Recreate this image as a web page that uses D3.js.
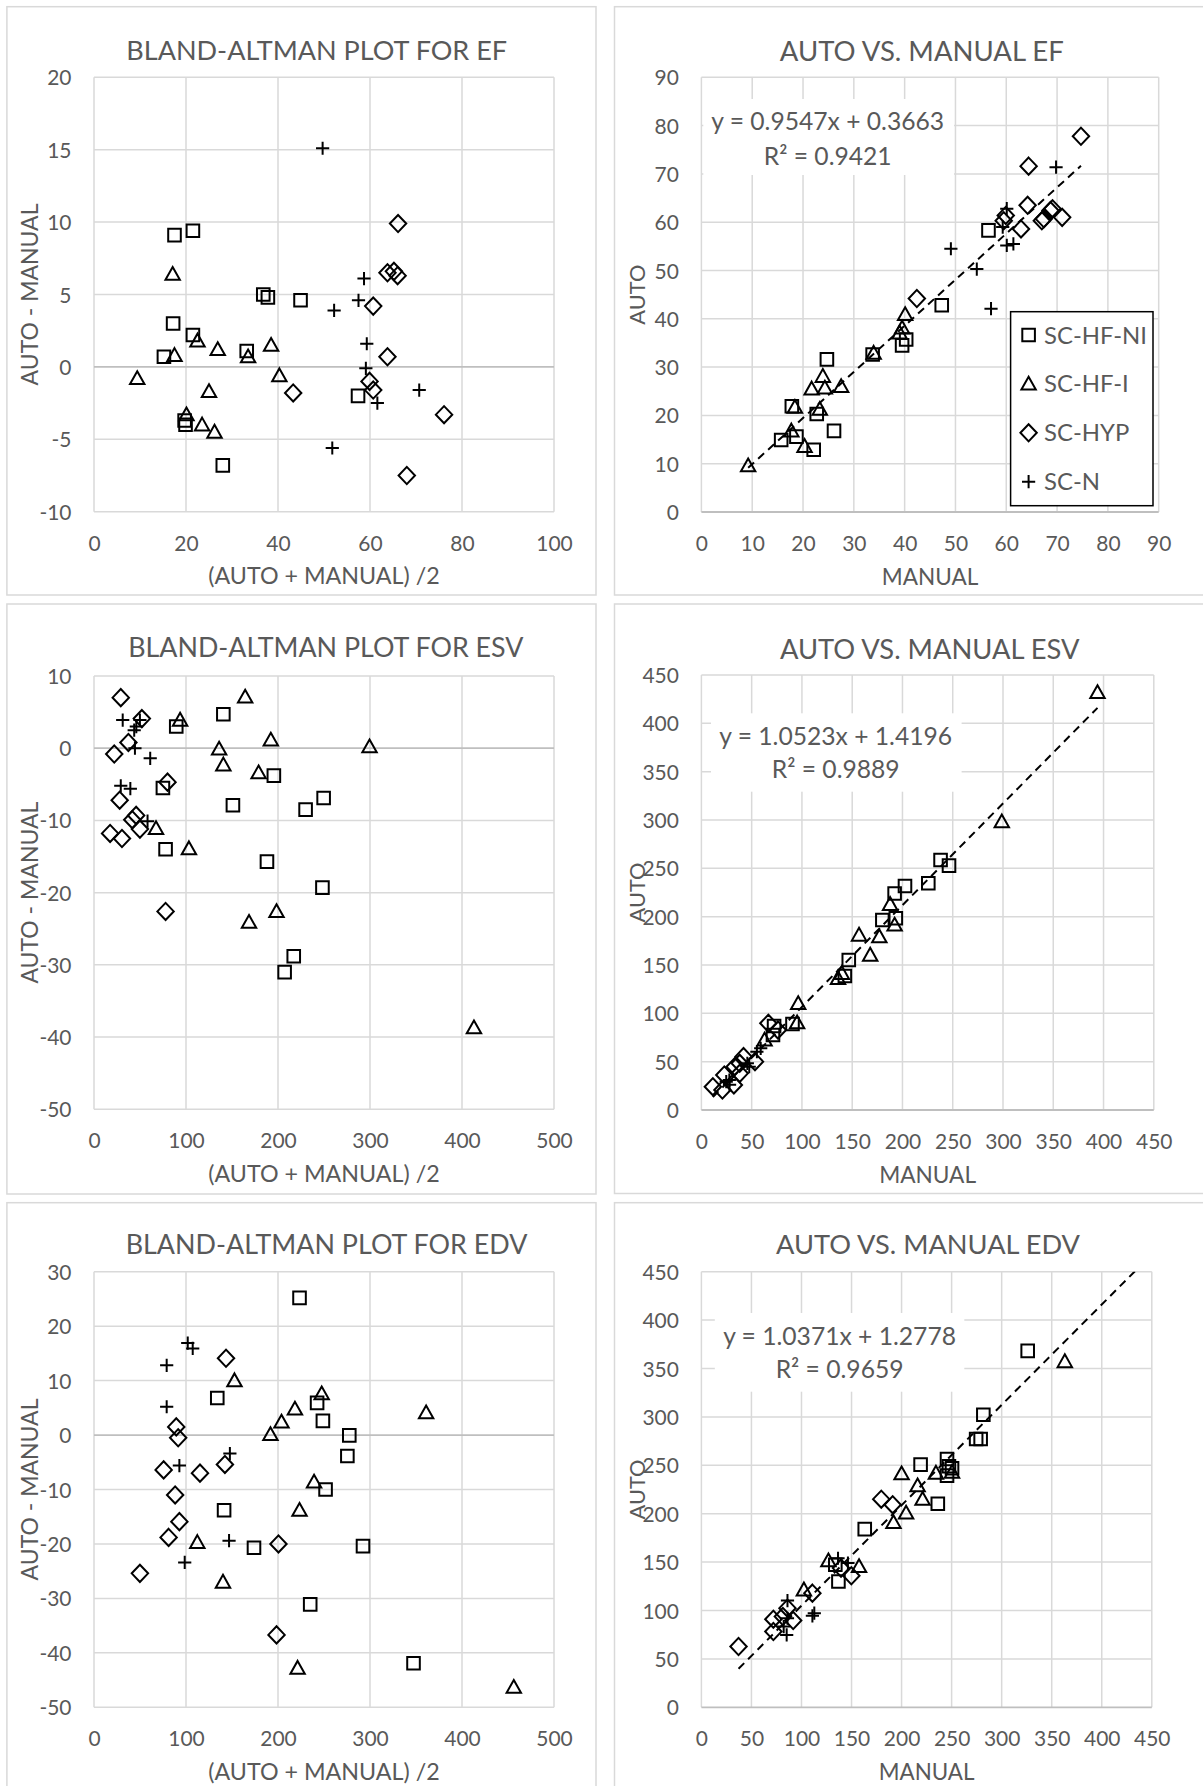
<!DOCTYPE html>
<html><head><meta charset="utf-8">
<script src="https://cdn.jsdelivr.net/npm/d3@7"></script>
<style>
body{margin:0;background:#fff}
svg{display:block}
text{font-family:Lato,"Open Sans",sans-serif;fill:#595959}
</style></head>
<body><svg id="c" width="1203" height="1786"></svg>
<script>
// ---------- DATA ----------
const seriesNames = ["SC-HF-NI","SC-HF-I","SC-HYP","SC-N"];

// Bland-Altman EF: [mean, diff]
const efBA_NI  = [[17.5,9.1],[21.5,9.4],[36.8,5.0],[37.8,4.8],[44.9,4.6],[17.2,3.0],[21.5,2.2],[15.2,0.7],[33.2,1.1],[57.4,-2.0],[19.7,-3.7],[19.9,-4.0],[28.0,-6.8]];
const efBA_HFI = [[17.1,6.4],[22.5,1.8],[17.5,0.8],[26.9,1.2],[33.5,0.7],[38.5,1.5],[9.4,-0.8],[40.3,-0.6],[25.0,-1.7],[20.1,-3.3],[23.5,-4.0],[26.2,-4.5]];
const efBA_HYP = [[66.1,9.9],[63.8,6.5],[65.2,6.6],[66.0,6.3],[60.7,4.2],[63.8,0.7],[59.9,-1.0],[60.7,-1.6],[43.3,-1.8],[76.1,-3.3],[68.0,-7.5]];
const efBA_N   = [[49.7,15.1],[58.7,6.1],[57.5,4.6],[52.2,3.9],[59.3,1.6],[59.1,-0.1],[61.6,-2.5],[70.7,-1.6],[51.8,-5.6]];

// Auto vs manual EF: [manual, auto]
const efSc_NI  = [[56.5,58.3],[47.3,42.8],[40.3,35.7],[39.5,34.5],[33.7,32.6],[24.7,31.6],[17.8,21.9],[22.7,20.3],[26.1,16.8],[15.7,14.9],[18.7,15.6],[22.1,12.9]];
const efSc_HFI = [[40.1,40.9],[39.5,38.1],[39.0,37.1],[33.9,32.9],[23.9,28.1],[21.7,25.5],[24.3,25.7],[27.5,26.0],[18.4,21.7],[23.3,21.3],[17.7,16.8],[20.3,13.6],[9.2,9.6]];
const efSc_HYP = [[74.7,77.8],[64.4,71.6],[64.2,63.5],[69.1,62.8],[68.7,62.4],[67.0,60.3],[67.4,60.7],[71.0,61.0],[59.5,60.3],[59.9,61.4],[62.9,58.6],[42.4,44.2]];
const efSc_N   = [[69.8,71.4],[60.1,62.8],[59.3,59.0],[60.1,55.2],[61.4,55.5],[49.1,54.5],[54.2,50.3],[57.0,42.1]];
const efTrend  = {slope:0.9547, intercept:0.3663, from:9.2, to:74.7, eq:"y = 0.9547x + 0.3663", r2:"R² = 0.9421"};

// Bland-Altman ESV
const esvBA_NI  = [[140.6,4.7],[89.4,3.0],[195.5,-3.8],[74.9,-5.5],[151,-7.9],[249.6,-6.9],[230,-8.5],[77.8,-14.0],[188,-15.7],[248.3,-19.3],[217.1,-28.8],[207.2,-31.0]];
const esvBA_HFI = [[164.3,7.1],[93.6,3.9],[192.2,1.15],[136,-0.1],[299.5,0.2],[140.6,-2.3],[178.9,-3.4],[67.4,-11.1],[103.2,-13.9],[198.4,-22.6],[168.5,-24.1],[413,-38.7]];
const esvBA_HYP = [[29.1,7.0],[52,4.1],[37.4,0.8],[22,-0.8],[79.9,-4.7],[27.9,-7.2],[45.8,-9.3],[41.6,-9.9],[49.9,-11.2],[17.5,-11.8],[30.4,-12.5],[77.8,-22.6]];
const esvBA_N   = [[31.2,3.9],[49.9,3.9],[43.7,2.5],[46,3.0],[44.5,0],[61.1,-1.4],[29.1,-5.2],[39.5,-5.6],[58.2,-10.1]];

// Auto vs manual ESV
const esvSc_NI  = [[237.9,258.6],[246.3,252.8],[225.7,234.5],[202.5,231.7],[192.2,224],[180,196.6],[193.4,198.3],[146.6,155.2],[142.7,138.6],[90.6,89],[72.3,86.9],[71.2,77.6]];
const esvSc_HFI = [[394,432],[298.8,298.3],[187.7,212.8],[192.2,191.4],[156.8,181],[177,179.3],[167.9,160.3],[135.9,136.2],[139.7,141.4],[96.3,110.3],[95.2,90.3],[62.8,72.4]];
const esvSc_HYP = [[66.6,89.7],[76.1,82.8],[53.3,50],[41.9,55.2],[38.1,48.3],[33.1,44.8],[22.8,36.2],[32.3,25.9],[20.9,20.7],[11.4,24.1],[38.1,37.9]];
const esvSc_N   = [[59,63.8],[55.2,60.3],[45.7,48.3],[47.6,44.8],[27.8,31],[24.7,29.3],[28,26]];
const esvTrend  = {slope:1.0523, intercept:1.4196, from:11.4, to:394, eq:"y = 1.0523x + 1.4196", r2:"R² = 0.9889"};

// Bland-Altman EDV
const edvBA_NI  = [[223.4,25.2],[134,6.8],[242.5,5.9],[248.8,2.6],[277.5,-0.06],[275.4,-3.85],[251.7,-10.0],[141.4,-13.8],[173.9,-20.7],[292.4,-20.4],[235,-31.1],[347.3,-41.9]];
const edvBA_HFI = [[152.7,10.0],[247.5,7.6],[218.4,4.8],[361,4.1],[203.8,2.4],[191.8,0.1],[239.2,-8.6],[223.4,-13.8],[112.3,-19.7],[140.2,-27.0],[221.3,-42.8],[456.3,-46.3]];
const edvBA_HYP = [[143.5,14.1],[89.4,1.5],[91.5,-0.5],[142.3,-5.4],[75.7,-6.4],[115.2,-7.0],[88.2,-11.0],[92.8,-15.9],[81.1,-18.8],[200.5,-20],[49.9,-25.4],[198.4,-36.7]];
const edvBA_N   = [[101.9,16.9],[107.3,15.9],[79,12.8],[79,5.2],[147.7,-3.4],[92.8,-5.6],[146.8,-19.4],[98.6,-23.4]];

// Auto vs manual EDV
const edvSc_NI  = [[326,368.2],[281.7,302.2],[274.5,277.1],[279,277.1],[219,250.7],[245.4,256.5],[247.3,249],[250.4,247],[245.4,239.3],[236.2,210.3],[163.2,184.1],[133.8,147.2],[136.9,130]];
const edvSc_HFI = [[363.1,357.2],[200,241.4],[234.3,242],[250.4,242.8],[216,229],[221,215],[204.5,200.7],[191.9,191],[126.9,151.4],[157.5,145.5],[102.4,121.4]];
const edvSc_HYP = [[179.7,215],[191.1,209.3],[139.5,143.8],[149.8,135.9],[110.9,117.9],[86,102.4],[71.9,91],[81.4,93.8],[91.7,89.7],[71.9,78.3],[37.1,62.8]];
const edvSc_N   = [[136.5,154],[146.4,149],[86,110.3],[112.8,97.2],[110.9,94.5],[86,92],[82.2,83.4],[85.2,74.8]];
const edvTrend  = {slope:1.0371, intercept:1.2778, from:37.1, to:479, eq:"y = 1.0371x + 1.2778", r2:"R² = 0.9659"};

// tick values
const efBAxTicks = [0,20,40,60,80,100];
const efBAyTicks = [-10,-5,0,5,10,15,20];
const efScTicks  = [0,10,20,30,40,50,60,70,80,90];
const volBAxTicks = [0,100,200,300,400,500];
const esvBAyTicks = [-50,-40,-30,-20,-10,0,10];
const edvBAyTicks = [-50,-40,-30,-20,-10,0,10,20,30];
const volScTicks = [0,50,100,150,200,250,300,350,400,450];

// ---------- DRAWING ----------
const svg = d3.select("#c");
const GRID="#d9d9d9", AXIS="#bfbfbf", TXT="#595959";
const fmt = d => String(d);   // plain hyphen-minus, as in the source

const shapes = [
  {draw(c){const h=6.3;c.rect(-h,-h,2*h,2*h);}},
  {draw(c){c.moveTo(0,-7.2);c.lineTo(7.2,5.6);c.lineTo(-7.2,5.6);c.closePath();}},
  {draw(c){c.moveTo(0,-8.6);c.lineTo(8.2,0);c.lineTo(0,8.6);c.lineTo(-8.2,0);c.closePath();}},
  {draw(c){c.moveTo(-6.6,0);c.lineTo(6.6,0);c.moveTo(0,-6.6);c.lineTo(0,6.6);}}
];

function fit(sel, target){
  const w = sel.node().getComputedTextLength();
  const fs = parseFloat(sel.attr("font-size"));
  sel.attr("font-size", fs*target/w);
  return fs*target/w;
}
function measureSize(str, target){
  const t = svg.append("text").attr("font-size",20).text(str);
  const s = fit(t, target); t.remove(); return s;
}
const tickFS = measureSize("100", 36.5);
const eqFS = measureSize("y = 0.9547x + 0.3663", 233);
const legFS = measureSize("SC-HF-NI", 103);

let clipId = 0;
function panel(cfg){
  const g = svg.append("g");
  g.append("rect").attr("x",cfg.box[0]).attr("y",cfg.box[1])
    .attr("width",cfg.box[2]-cfg.box[0]).attr("height",cfg.box[3]-cfg.box[1])
    .attr("fill","#fff").attr("stroke",GRID).attr("stroke-width",1.5);
  const x = d3.scaleLinear().domain(cfg.xDom).range([cfg.px[0],cfg.px[1]]);
  const y = d3.scaleLinear().domain(cfg.yDom).range([cfg.py[1],cfg.py[0]]);
  // gridlines
  g.append("g").selectAll("line").data(cfg.xTicks).join("line")
    .attr("x1",d=>x(d)).attr("x2",d=>x(d)).attr("y1",cfg.py[0]).attr("y2",cfg.py[1])
    .attr("stroke",GRID).attr("stroke-width",1.5);
  g.append("g").selectAll("line").data(cfg.yTicks).join("line")
    .attr("x1",cfg.px[0]).attr("x2",cfg.px[1]).attr("y1",d=>y(d)).attr("y2",d=>y(d))
    .attr("stroke",d=>d===0?AXIS:GRID).attr("stroke-width",d=>d===0?1.8:1.5);
  // axes labels
  const ay = g.append("g").attr("transform",`translate(${cfg.px[0]},0)`)
    .call(d3.axisLeft(y).tickValues(cfg.yTicks).tickSize(0).tickPadding(22.5).tickFormat(fmt));
  ay.select(".domain").remove();
  ay.selectAll("text").attr("font-size",tickFS).attr("font-family","Lato").attr("fill",TXT).attr("dy","0.36em");
  const ax = g.append("g").attr("transform",`translate(0,${cfg.py[1]})`)
    .call(d3.axisBottom(x).tickValues(cfg.xTicks).tickSize(0).tickFormat(fmt));
  ax.select(".domain").remove();
  ax.selectAll("text").attr("font-size",tickFS).attr("font-family","Lato").attr("fill",TXT).attr("y",39).attr("dy",0);
  // title
  const t = g.append("text").attr("x",cfg.title.cx).attr("y",cfg.title.by).attr("text-anchor","middle")
    .attr("font-size",26).text(cfg.title.text);
  fit(t, cfg.title.w);
  // axis titles
  const xt = g.append("text").attr("x",(cfg.px[0]+cfg.px[1])/2).attr("y",cfg.py[1]+72.5)
    .attr("text-anchor","middle").attr("font-size",22).text(cfg.xTitle.text);
  fit(xt, cfg.xTitle.w);
  const yt = g.append("text").attr("transform",`translate(${cfg.px[0]-56.5},${(cfg.py[0]+cfg.py[1])/2}) rotate(-90)`)
    .attr("text-anchor","middle").attr("font-size",22).text(cfg.yTitle.text);
  fit(yt, cfg.yTitle.w);
  // equation label background
  if(cfg.eq){
    const e = cfg.eq;
    g.append("rect").attr("x",e.box[0]).attr("y",e.box[1]).attr("width",e.box[2]-e.box[0]).attr("height",e.box[3]-e.box[1]).attr("fill","#fff");
  }
  // trendline
  if(cfg.trend){
    const id = "clip"+(clipId++);
    g.append("clipPath").attr("id",id).append("rect")
      .attr("x",cfg.px[0]).attr("y",cfg.py[0]).attr("width",cfg.px[1]-cfg.px[0]).attr("height",cfg.py[1]-cfg.py[0]);
    const tr = cfg.trend;
    const pts = [tr.from, tr.to].map(v=>[v, tr.slope*v+tr.intercept]);
    g.append("path").attr("clip-path",`url(#${id})`)
      .attr("d", d3.line().x(d=>x(d[0])).y(d=>y(d[1]))(pts))
      .attr("fill","none").attr("stroke","#000").attr("stroke-width",2).attr("stroke-dasharray","8,5.5");
  }
  // points
  cfg.series.forEach((arr,i)=>{
    g.append("g").selectAll("path").data(arr).join("path")
      .attr("transform",d=>`translate(${x(d[0])},${y(d[1])})`)
      .attr("d", d3.symbol().type(shapes[i])())
      .attr("fill","none").attr("stroke","#000").attr("stroke-width",2);
  });
  if(cfg.eq){
    const e = cfg.eq;
    g.append("text").attr("x",e.cx).attr("y",e.b1).attr("text-anchor","middle").attr("font-size",eqFS).text(cfg.trend.eq);
    g.append("text").attr("x",e.cx).attr("y",e.b2).attr("text-anchor","middle").attr("font-size",eqFS).text(cfg.trend.r2);
  }
  if(cfg.legend){
    const L = cfg.legend;
    g.append("rect").attr("x",L.box[0]).attr("y",L.box[1]).attr("width",L.box[2]-L.box[0]).attr("height",L.box[3]-L.box[1])
      .attr("fill","#fff").attr("stroke","#000").attr("stroke-width",1.5);
    seriesNames.forEach((n,i)=>{
      const cy = L.y0 + i*L.dy;
      g.append("path").attr("transform",`translate(${L.sx},${cy})`).attr("d",d3.symbol().type(shapes[i])())
        .attr("fill","none").attr("stroke","#000").attr("stroke-width",2);
      g.append("text").attr("x",L.tx).attr("y",cy).attr("dy","0.36em").attr("font-size",legFS).text(n);
    });
  }
}

const baX = {text:"(AUTO + MANUAL) /2", w:231.5};
const baY = {text:"AUTO - MANUAL", w:182};
const scX = {text:"MANUAL", w:96.5};
const scY = {text:"AUTO", w:60};

panel({box:[6.9,6.7,596,595], px:[94,554], py:[77.3,511.7], xDom:[0,100], yDom:[-10,20],
  xTicks:efBAxTicks, yTicks:efBAyTicks, title:{text:"BLAND-ALTMAN PLOT FOR EF", cx:316.7, by:59.5, w:381},
  xTitle:baX, yTitle:baY, series:[efBA_NI,efBA_HFI,efBA_HYP,efBA_N]});

panel({box:[614.5,6.7,1205,595], px:[701.4,1158.7], py:[77.3,512], xDom:[0,90], yDom:[0,90],
  xTicks:efScTicks, yTicks:efScTicks, title:{text:"AUTO VS. MANUAL EF", cx:921.8, by:61, w:284},
  xTitle:scX, yTitle:scY, series:[efSc_NI,efSc_HFI,efSc_HYP,efSc_N], trend:efTrend,
  eq:{box:[703.3,99,954,175], cx:827.7, b1:130, b2:164.5},
  legend:{box:[1010.6,311.7,1153,505.7], sx:1028.6, tx:1044, y0:335, dy:48.9}});

panel({box:[6.9,604,596,1194], px:[94,554], py:[676,1109.3], xDom:[0,500], yDom:[-50,10],
  xTicks:volBAxTicks, yTicks:esvBAyTicks, title:{text:"BLAND-ALTMAN PLOT FOR ESV", cx:325.8, by:657.3, w:395.5},
  xTitle:baX, yTitle:baY, series:[esvBA_NI,esvBA_HFI,esvBA_HYP,esvBA_N]});

panel({box:[614.5,604,1205,1193.5], px:[701.4,1153.8], py:[675,1110], xDom:[0,450], yDom:[0,450],
  xTicks:volScTicks, yTicks:volScTicks, title:{text:"AUTO VS. MANUAL ESV", cx:929.7, by:659, w:299.6},
  xTitle:{text:"MANUAL", w:97}, yTitle:scY, series:[esvSc_NI,esvSc_HFI,esvSc_HYP,esvSc_N], trend:esvTrend,
  eq:{box:[711,713.3,961.6,791.7], cx:835.7, b1:745, b2:778.3}});

panel({box:[6.9,1202.7,596,1800], px:[94,554], py:[1271.7,1707.3], xDom:[0,500], yDom:[-50,30],
  xTicks:volBAxTicks, yTicks:edvBAyTicks, title:{text:"BLAND-ALTMAN PLOT FOR EDV", cx:326.5, by:1254, w:402},
  xTitle:baX, yTitle:baY, series:[edvBA_NI,edvBA_HFI,edvBA_HYP,edvBA_N]});

panel({box:[614.5,1202.7,1205,1800], px:[701.4,1151.8], py:[1271.7,1707.3], xDom:[0,450], yDom:[0,450],
  xTicks:volScTicks, yTicks:volScTicks, title:{text:"AUTO VS. MANUAL EDV", cx:928, by:1254, w:304},
  xTitle:{text:"MANUAL", w:95.7}, yTitle:scY, series:[edvSc_NI,edvSc_HFI,edvSc_HYP,edvSc_N], trend:edvTrend,
  eq:{box:[714.8,1313,964.3,1391.7], cx:839.6, b1:1345, b2:1378.3}});
</script>
</body></html>
